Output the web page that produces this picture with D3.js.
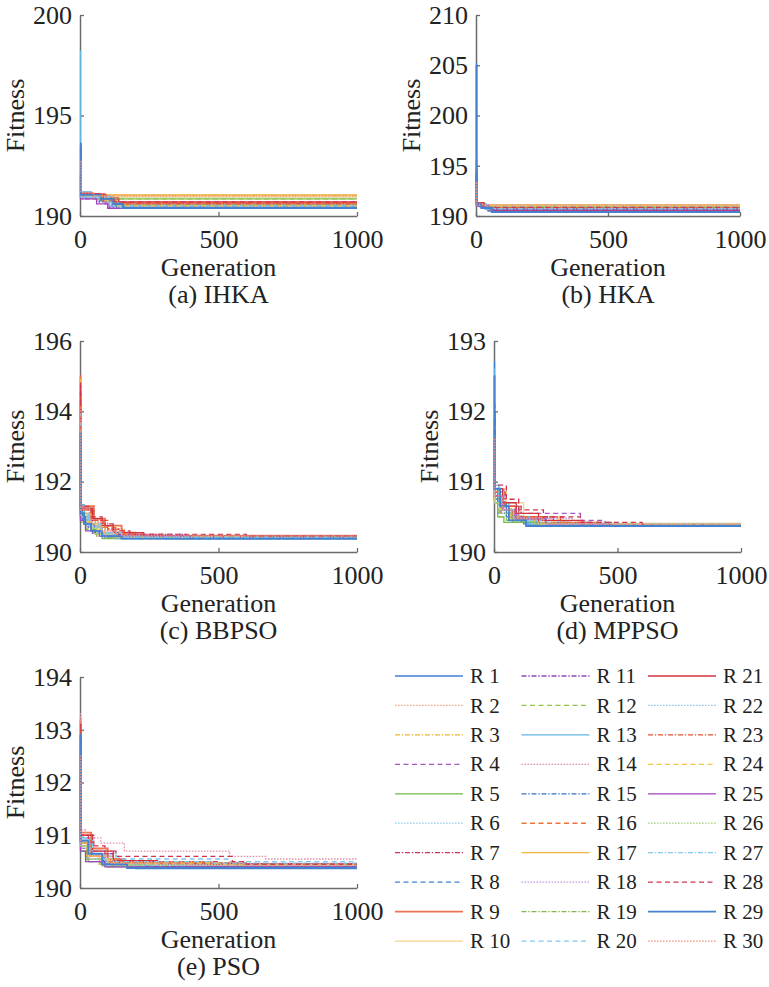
<!DOCTYPE html>
<html>
<head>
<meta charset="utf-8">
<script src="https://cdn.jsdelivr.net/npm/d3@7"></script>
<style>
  body { margin: 0; background: #fff; }
  svg { display: block; }
</style>
</head>
<body>
<svg id="chart" width="769" height="987"></svg>
<script>
// convergence curves, 30 runs per algorithm, each run = [generation, fitness] breakpoints (step curve)
const runNames = d3.range(1, 31).map(i => "R " + i)

const xTicks = [0, 500, 1000]

const ihkaRuns = [
  [[0,192.6],[3,191.1],[60,190.9],[125,190.5]],
  [[0,193.1],[4,191.2],[40,191.05]],
  [[0,192.4],[3,191.05],[30,191.0]],
  [[0,191.9],[2,190.9],[90,190.6],[110,190.45]],
  [[0,192.8],[3,191.0],[50,190.85]],
  [[0,193.5],[3,191.0],[100,190.75],[140,190.4]],
  [[0,192.2],[4,191.1],[80,190.8],[130,190.6]],
  [[0,192.9],[3,190.95],[70,190.7],[115,190.5]],
  [[0,193.4],[3,191.15],[45,191.05],[80,190.85],[120,190.65]],
  [[0,192.5],[3,191.0],[35,190.95]],
  [[0,192.1],[2,190.85],[60,190.7],[105,190.4]],
  [[0,192.7],[3,191.05],[95,190.85]],
  [[0,198.2],[2,191.2],[40,191.0],[110,190.7],[150,190.45]],
  [[0,193.0],[3,191.05],[85,190.7],[125,190.6]],
  [[0,192.3],[3,190.95],[75,190.75],[130,190.45]],
  [[0,192.9],[4,191.1],[90,190.9],[135,190.65]],
  [[0,192.6],[3,191.08],[30,191.05]],
  [[0,192.0],[2,190.9],[100,190.55]],
  [[0,192.4],[3,191.0],[70,190.8],[115,190.55]],
  [[0,193.2],[3,190.95],[120,190.5]],
  [[0,193.3],[3,191.1],[65,191.05],[95,190.9],[140,190.7]],
  [[0,192.2],[2,190.9],[110,190.45]],
  [[0,192.8],[3,191.05],[80,190.8],[120,190.6]],
  [[0,192.5],[3,191.0],[90,190.75],[135,190.5]],
  [[0,192.0],[2,190.85],[60,190.6],[100,190.38]],
  [[0,192.6],[3,191.0],[60,190.9]],
  [[0,193.1],[3,190.95],[105,190.65],[145,190.42]],
  [[0,192.9],[3,191.1],[85,190.85],[125,190.7]],
  [[0,193.6],[3,191.05],[75,190.85],[120,190.6],[155,190.4]],
  [[0,192.7],[4,191.15],[50,191.0]]
]

const hkaRuns = [
  [[0,205.2],[2,191.3],[15,190.9],[45,190.5]],
  [[0,193.5],[2,191.3],[20,191.0]],
  [[0,194.2],[2,191.2],[25,191.05]],
  [[0,192.8],[2,191.1],[30,190.9]],
  [[0,193.1],[2,191.0],[35,190.8]],
  [[0,195.0],[2,191.2],[40,190.85]],
  [[0,193.9],[2,191.3],[30,190.95],[50,190.7]],
  [[0,192.5],[2,191.1],[45,190.75]],
  [[0,194.6],[2,191.25],[25,191.0],[55,190.6]],
  [[0,193.3],[2,191.15],[20,191.1]],
  [[0,193.7],[2,191.2],[40,191.0]],
  [[0,192.9],[2,191.05],[30,190.95]],
  [[0,196.0],[2,191.1],[35,190.65]],
  [[0,193.2],[2,191.2],[25,191.1]],
  [[0,194.0],[2,191.0],[50,190.7]],
  [[0,193.6],[2,191.2],[30,190.9]],
  [[0,192.7],[2,191.1],[15,191.05]],
  [[0,193.0],[2,191.0],[40,190.8]],
  [[0,194.3],[2,191.15],[35,190.85]],
  [[0,193.4],[2,191.1],[45,190.75]],
  [[0,195.5],[2,191.3],[30,190.9],[60,190.55]],
  [[0,192.6],[2,191.05],[25,191.0]],
  [[0,193.8],[2,191.2],[40,190.8]],
  [[0,193.1],[2,191.1],[20,191.05]],
  [[0,194.5],[2,191.0],[50,190.6]],
  [[0,192.9],[2,191.1],[35,190.95]],
  [[0,193.5],[2,191.15],[45,190.7]],
  [[0,194.1],[2,191.25],[30,190.85]],
  [[0,205.0],[2,191.2],[20,190.8],[60,190.4]],
  [[0,193.3],[2,191.2],[25,191.1]]
]

const bbpsoRuns = [
  [[0,193.6],[2,191.2],[10,190.9],[30,190.7],[60,190.5],[100,190.4],[300,190.38]],
  [[0,194.0],[3,191.0],[20,190.8],[50,190.6],[120,190.45],[200,190.4]],
  [[0,194.2],[2,191.1],[25,190.75],[60,190.55],[110,190.42]],
  [[0,193.2],[2,190.9],[15,190.7],[45,190.5],[90,190.4]],
  [[0,193.5],[2,191.0],[20,190.8],[50,190.55],[80,190.38]],
  [[0,193.9],[3,191.1],[25,190.8],[70,190.55],[130,190.45],[250,190.4]],
  [[0,194.6],[2,191.2],[40,190.9],[90,190.65],[140,190.5],[220,190.43]],
  [[0,193.3],[2,190.95],[30,190.7],[80,190.5],[150,190.38]],
  [[0,195.0],[2,191.3],[50,190.95],[90,190.75],[150,190.55],[200,190.45]],
  [[0,193.8],[2,191.05],[35,190.75],[90,190.5],[170,190.42]],
  [[0,193.4],[2,191.0],[25,190.75],[70,190.5],[380,190.4]],
  [[0,193.7],[2,190.9],[20,190.65],[60,190.45],[110,190.4]],
  [[0,194.3],[2,191.35],[15,191.0],[40,190.7],[80,190.5],[130,190.38]],
  [[0,193.6],[2,191.1],[30,190.85],[75,190.6],[160,190.46]],
  [[0,193.9],[2,191.05],[20,190.8],[55,190.55],[100,190.45],[360,190.38]],
  [[0,194.4],[2,191.2],[40,190.9],[85,190.7],[130,190.5],[230,190.44]],
  [[0,194.9],[2,191.1],[35,190.8],[75,190.55],[130,190.45],[190,190.4]],
  [[0,193.5],[2,190.95],[25,190.7],[60,190.5],[100,190.42]],
  [[0,193.1],[2,190.85],[20,190.65],[50,190.5],[100,190.4]],
  [[0,193.7],[2,191.0],[30,190.75],[65,190.55],[140,190.45]],
  [[0,194.7],[2,191.25],[45,190.95],[80,190.75],[120,190.55],[230,190.45]],
  [[0,193.3],[2,191.0],[25,190.75],[70,190.5],[120,190.4]],
  [[0,194.5],[2,191.2],[50,190.9],[100,190.65],[160,190.5],[300,190.45]],
  [[0,193.8],[2,191.1],[30,190.8],[70,190.55],[120,190.42]],
  [[0,193.2],[2,190.9],[20,190.6],[70,190.45],[400,190.4]],
  [[0,193.6],[2,191.05],[25,190.7],[60,190.5],[110,190.43]],
  [[0,194.0],[2,191.1],[30,190.8],[75,190.55],[150,190.42]],
  [[0,194.8],[2,191.3],[40,191.0],[80,190.8],[120,190.6],[180,190.5],[600,190.46]],
  [[0,193.4],[2,191.1],[15,190.8],[40,190.6],[80,190.45],[150,190.38]],
  [[0,194.1],[2,191.2],[35,190.85],[80,190.6],[150,190.48]]
]

const mppsoRuns = [
  [[0,192.7],[2,190.9],[15,190.7],[50,190.5],[120,190.4],[250,190.37]],
  [[0,191.6],[3,190.8],[30,190.6],[80,190.45],[200,190.38]],
  [[0,191.9],[3,190.85],[25,190.65],[70,190.5],[160,190.4],[400,190.37]],
  [[0,191.4],[3,190.9],[40,190.65],[110,190.55],[350,190.45],[450,190.38]],
  [[0,191.3],[2,190.7],[15,190.5],[40,190.42],[300,190.37]],
  [[0,191.8],[3,190.8],[35,190.6],[90,190.45],[220,190.38]],
  [[0,191.7],[3,190.85],[45,190.65],[100,190.5],[280,190.4],[500,190.37]],
  [[0,191.5],[2,190.75],[20,190.55],[60,190.45],[150,190.38]],
  [[0,191.9],[2,190.8],[30,190.6],[75,190.48],[180,190.4],[420,190.37]],
  [[0,191.6],[3,190.9],[50,190.7],[120,190.5],[260,190.4]],
  [[0,191.8],[3,190.8],[30,190.65],[90,190.5],[240,190.42],[480,190.38]],
  [[0,191.4],[2,190.7],[20,190.5],[50,190.45],[130,190.4]],
  [[0,192.6],[2,190.95],[20,190.7],[60,190.5],[140,190.38]],
  [[0,191.7],[3,190.85],[40,190.6],[100,190.47],[230,190.39]],
  [[0,191.5],[2,190.75],[25,190.55],[70,190.45],[170,190.37]],
  [[0,191.9],[3,190.85],[35,190.65],[85,190.5],[200,190.42],[380,190.38]],
  [[0,191.3],[2,190.8],[30,190.6],[80,190.45],[190,190.39]],
  [[0,191.6],[3,190.7],[25,190.55],[100,190.48],[320,190.4]],
  [[0,191.5],[2,190.75],[30,190.55],[75,190.44],[160,190.38]],
  [[0,191.8],[3,190.8],[40,190.6],[95,190.48],[210,190.4]],
  [[0,192.0],[3,190.9],[35,190.7],[90,190.55],[180,190.45],[360,190.38]],
  [[0,191.6],[2,190.8],[30,190.6],[70,190.45],[150,190.38]],
  [[0,191.7],[3,190.85],[45,190.65],[110,190.5],[270,190.42],[440,190.38]],
  [[0,191.4],[2,190.75],[25,190.6],[65,190.47],[190,190.4]],
  [[0,191.9],[3,190.8],[35,190.6],[85,190.47],[210,190.4],[470,190.37]],
  [[0,191.5],[2,190.7],[20,190.55],[60,190.45],[150,190.41]],
  [[0,191.8],[3,190.85],[30,190.6],[80,190.45],[190,190.38]],
  [[0,192.1],[3,190.95],[50,190.75],[100,190.6],[200,190.5],[350,190.42],[600,190.37]],
  [[0,192.5],[2,190.9],[25,190.65],[60,190.45],[130,190.37]],
  [[0,191.6],[3,190.8],[35,190.6],[80,190.48],[200,190.4]]
]

const psoRuns = [
  [[0,193.0],[2,190.9],[30,190.6],[90,190.45],[200,190.37]],
  [[0,192.4],[2,190.8],[25,190.6],[80,190.48],[300,190.42]],
  [[0,192.7],[3,190.85],[40,190.6],[120,190.45],[250,190.4]],
  [[0,192.2],[2,190.75],[20,190.55],[70,190.45],[600,190.42]],
  [[0,192.5],[2,190.7],[30,190.5],[100,190.4]],
  [[0,192.9],[3,190.95],[45,190.65],[110,190.48],[350,190.43]],
  [[0,193.1],[2,191.0],[50,190.7],[130,190.5],[500,190.45]],
  [[0,192.6],[2,190.85],[30,190.6],[90,190.45],[220,190.4]],
  [[0,193.2],[2,191.05],[40,190.75],[100,190.55],[160,190.47],[560,190.44]],
  [[0,192.3],[2,190.8],[35,190.55],[100,190.43]],
  [[0,192.8],[3,190.9],[45,190.65],[120,190.5],[420,190.45]],
  [[0,192.1],[2,190.7],[25,190.5],[80,190.42]],
  [[0,192.9],[2,190.95],[35,190.65],[90,190.5],[200,190.4]],
  [[0,193.3],[2,191.1],[20,190.95],[75,190.85],[160,190.7],[540,190.6],[670,190.55]],
  [[0,192.6],[2,190.85],[30,190.6],[85,190.45],[240,190.41]],
  [[0,192.4],[3,190.8],[40,190.6],[110,190.48],[600,190.44]],
  [[0,193.0],[2,190.9],[25,190.6],[70,190.45],[180,190.38]],
  [[0,192.2],[2,190.75],[30,190.55],[95,190.46],[380,190.42]],
  [[0,192.5],[2,190.8],[25,190.55],[75,190.44],[260,190.4]],
  [[0,192.5],[2,190.95],[40,190.7],[100,190.6],[140,190.55],[540,190.5]],
  [[0,193.1],[3,191.0],[45,190.7],[120,190.52],[280,190.46]],
  [[0,192.3],[2,190.8],[30,190.55],[90,190.43]],
  [[0,192.8],[3,190.9],[40,190.65],[100,190.5],[450,190.45]],
  [[0,192.6],[2,190.85],[30,190.6],[100,190.47],[520,190.44]],
  [[0,192.1],[2,190.7],[20,190.5],[90,190.4]],
  [[0,192.4],[2,190.8],[35,190.55],[120,190.45]],
  [[0,192.7],[2,190.9],[45,190.65],[130,190.5],[480,190.47]],
  [[0,192.8],[2,191.0],[30,190.8],[90,190.65],[120,190.6],[550,190.5],[600,190.45]],
  [[0,192.9],[2,190.9],[30,190.65],[80,190.45],[170,190.38]],
  [[0,192.5],[3,190.85],[35,190.6],[110,190.47],[400,190.43]]
]

// run colours and line styles as in the legend
const runColours = [
  '#3f80cf', '#f2a98f', '#efb52c', '#a957c4', '#72b947',
  '#a9d6ef', '#c23b5a', '#3d82d6', '#ef7350', '#f5d488',
  '#9247bf', '#93c246', '#62b6e6', '#e094ac', '#3573c2',
  '#ef7436', '#f0b73a', '#c49ade', '#82b84a', '#82c6ef',
  '#d3343f', '#93c6e6', '#e1532e', '#f6c445', '#a244bf',
  '#b5d894', '#86c8ee', '#d2344f', '#4681cf', '#f19483'
]
const runDash = [
  'solid', 'dot', 'dashdot', 'dash', 'solid',
  'dot', 'dashdot', 'dash', 'solid', 'solid',
  'dashdot', 'dash', 'solid', 'dot', 'dashdot',
  'dash', 'solid', 'dot', 'dashdot', 'dash',
  'solid', 'dot', 'dashdot', 'dash', 'solid',
  'dot', 'dashdot', 'dash', 'solid', 'dot'
]
const dashArray = { solid: null, dot: '1.6,1.4', dash: '5,3.5', dashdot: '5,1.8,1.4,1.8' }
const runWidth = i => (i === 8 || i === 28) ? 1.9 : 1.3

const panels = [
  { runs: ihkaRuns,  yDomain: [190, 200], yTicks: [190, 195, 200], caption: '(a) IHKA',  x0: 80,  x1: 357, y0: 15,  y1: 216 },
  { runs: hkaRuns,   yDomain: [190, 210], yTicks: [190, 195, 200, 205, 210], caption: '(b) HKA', x0: 476, x1: 740, y0: 15, y1: 216 },
  { runs: bbpsoRuns, yDomain: [190, 196], yTicks: [190, 192, 194, 196], caption: '(c) BBPSO', x0: 80, x1: 357, y0: 341, y1: 552 },
  { runs: mppsoRuns, yDomain: [190, 193], yTicks: [190, 191, 192, 193], caption: '(d) MPPSO', x0: 494, x1: 741, y0: 341, y1: 552 },
  { runs: psoRuns,   yDomain: [190, 194], yTicks: [190, 191, 192, 193, 194], caption: '(e) PSO', x0: 80, x1: 357, y0: 677, y1: 888 }
]

const svg = d3.select('#chart')
const fontSize = 26
const serif = 'Liberation Serif, Tinos, Times New Roman, Nimbus Roman, FreeSerif, Noto Serif, DejaVu Serif, Georgia, serif'
const axisColour = '#6b6b6b'

panels.forEach((p, pi) => {
  const x = d3.scaleLinear().domain([0, 1000]).range([p.x0, p.x1])
  const y = d3.scaleLinear().domain(p.yDomain).range([p.y1, p.y0])
  const g = svg.append('g')

  g.append('clipPath').attr('id', 'clip' + pi)
    .append('rect')
    .attr('x', p.x0 - 1).attr('y', p.y0 - 2)
    .attr('width', p.x1 - p.x0 + 2).attr('height', p.y1 - p.y0 + 1)

  const xAxis = g.append('g')
    .attr('transform', 'translate(0,' + p.y1 + ')')
    .call(d3.axisBottom(x).tickValues(xTicks).tickFormat(d3.format('d')).tickSizeInner(-4).tickSizeOuter(0).tickPadding(14))
  const yAxis = g.append('g')
    .attr('transform', 'translate(' + p.x0 + ',0)')
    .call(d3.axisLeft(y).tickValues(p.yTicks).tickFormat(d3.format('d')).tickSizeInner(-4).tickSizeOuter(0).tickPadding(8))

  ;[xAxis, yAxis].forEach(a => {
    a.attr('font-family', null).attr('font-size', null)
    a.select('.domain').attr('stroke', axisColour).attr('stroke-width', 1.5)
    a.selectAll('.tick line').attr('stroke', axisColour).attr('stroke-width', 1.3)
    a.selectAll('.tick text')
      .style('font-family', serif).style('font-size', fontSize + 'px')
      .attr('fill', '#222')
  })

  const line = d3.line()
    .x(d => x(d[0]))
    .y(d => y(d[1]))
    .curve(d3.curveStepAfter)

  // curves go over the axes, like in the original figure
  g.append('g').attr('clip-path', 'url(#clip' + pi + ')')
    .selectAll('path')
    .data(p.runs)
    .join('path')
    .attr('d', r => line(r.concat([[1000, r[r.length - 1][1]]])))
    .attr('fill', 'none')
    .attr('stroke', (r, i) => runColours[i])
    .attr('stroke-width', (r, i) => runWidth(i))
    .attr('stroke-dasharray', (r, i) => dashArray[runDash[i]])

  g.append('text')
    .attr('transform', 'translate(' + (p.x0 - 65) + ',' + ((p.y0 + p.y1) / 2) + ') rotate(-90)')
    .attr('text-anchor', 'middle').attr('dy', '0.35em')
    .style('font-family', serif).style('font-size', fontSize + 'px').attr('fill', '#222')
    .text('Fitness')

  g.append('text')
    .attr('x', (p.x0 + p.x1) / 2).attr('y', p.y1 + 60)
    .attr('text-anchor', 'middle')
    .style('font-family', serif).style('font-size', fontSize + 'px').attr('fill', '#222')
    .text('Generation')

  g.append('text')
    .attr('x', (p.x0 + p.x1) / 2).attr('y', p.y1 + 87)
    .attr('text-anchor', 'middle')
    .style('font-family', serif).style('font-size', fontSize + 'px').attr('fill', '#222')
    .text(p.caption)
})

// legend: 3 columns of 10
const legend = svg.append('g')
const legendItems = legend.selectAll('g')
  .data(runNames)
  .join('g')
  .attr('transform', (d, i) => 'translate(' + (395 + Math.floor(i / 10) * 126.5) + ',' + (676 + (i % 10) * 29.45) + ')')

legendItems.append('line')
  .attr('x1', 0).attr('x2', 68)
  .attr('stroke', (d, i) => runColours[i])
  .attr('stroke-width', (d, i) => runWidth(i))
  .attr('stroke-dasharray', (d, i) => dashArray[runDash[i]])

legendItems.append('text')
  .attr('x', 75).attr('dy', '0.34em')
  .style('font-family', serif).style('font-size', '21px').attr('fill', '#222')
  .text(d => d)
</script>
</body>
</html>
